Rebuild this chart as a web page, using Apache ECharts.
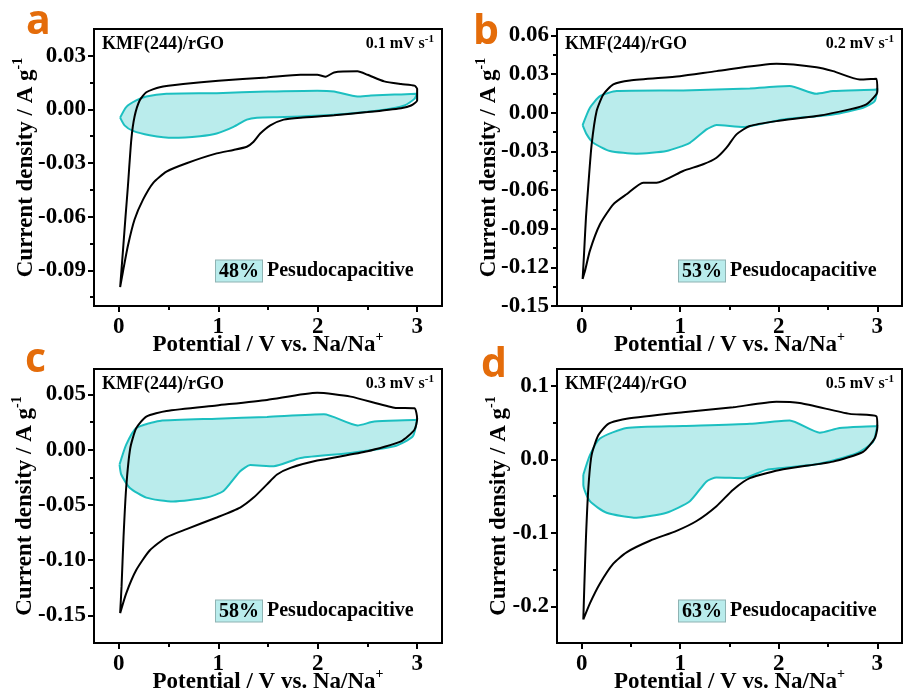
<!DOCTYPE html>
<html>
<head>
<meta charset="utf-8">
<script src="https://cdn.jsdelivr.net/npm/echarts@6/dist/echarts.min.js"></script>
<style>
html, body { margin: 0; padding: 0; background: #fff; }
#chart { width: 903px; height: 698px; }
</style>
</head>
<body>
<div id="chart"></div>
<script>
// potential (V) / current density (A g-1) pairs
var totalA = [[0.013,-0.0994],[0.040,-0.080],[0.067,-0.060],[0.091,-0.043],[0.125,-0.017],[0.158,-0.004],[0.209,0.005],[0.276,0.0096],[0.411,0.0124],[0.647,0.0142],[1.001,0.0161],[1.490,0.0179],[1.827,0.0194],[1.995,0.0194],[2.080,0.0183],[2.164,0.0207],[2.400,0.0213],[2.501,0.0194],[2.669,0.0157],[2.838,0.0142],[2.973,0.0133],[3.0,0.0115],[3.0,0.005],
  [2.939,0.0022],[2.838,0.0007],[2.501,-0.0015],[2.164,-0.0033],[1.827,-0.0046],[1.658,-0.0057],[1.523,-0.0089],[1.422,-0.0135],[1.355,-0.0181],[1.287,-0.0209],[1.153,-0.0227],[0.984,-0.0246],[0.681,-0.0301],[0.479,-0.0348],[0.344,-0.0412],[0.243,-0.0505],[0.158,-0.0616],[0.091,-0.0763],[0.040,-0.0911],[0.013,-0.0994]];
var capA = [[0.013,-0.0046],[0.074,0.0013],[0.175,0.005],[0.276,0.0072],[0.479,0.0087],[0.984,0.0091],[1.490,0.0100],[1.995,0.0105],[2.164,0.0100],[2.400,0.0072],[2.535,0.0078],[2.771,0.0083],[2.990,0.0087],[3.0,0.009],
  [2.973,0.0059],[2.872,0.0022],[2.669,-0.0002],[2.164,-0.003],[1.658,-0.0043],[1.389,-0.0046],[1.287,-0.0057],[1.153,-0.0098],[0.984,-0.0135],[0.816,-0.015],[0.546,-0.0159],[0.310,-0.0144],[0.142,-0.012],[0.057,-0.0089],[0.013,-0.0046]];

var totalB = [[0.010,-0.129],[0.024,-0.110],[0.044,-0.081],[0.068,-0.056],[0.101,-0.025],[0.152,0.0013],[0.220,0.0142],[0.321,0.022],[0.490,0.0251],[0.997,0.0284],[1.368,0.0323],[1.976,0.038],[2.382,0.0354],[2.551,0.0323],[2.821,0.0258],[2.990,0.0264],[3.0,0.0168],
  [2.99,0.0142],[2.889,0.0065],[2.720,0.0026],[2.382,-0.0026],[1.976,-0.0065],[1.706,-0.0103],[1.571,-0.0168],[1.470,-0.0271],[1.368,-0.0349],[1.233,-0.040],[1.030,-0.0452],[0.760,-0.0543],[0.625,-0.0543],[0.456,-0.0633],[0.321,-0.0711],[0.186,-0.0866],[0.084,-0.107],[0.034,-0.1227],[0.010,-0.129]];
var capB = [[0.010,-0.0096],[0.084,0.0039],[0.186,0.0129],[0.355,0.0168],[1.030,0.0173],[1.706,0.0189],[2.111,0.0207],[2.382,0.0147],[2.551,0.0168],[2.990,0.0181],[3.0,0.0189],
  [2.973,0.009],[2.855,0.0039],[2.551,-0.0013],[2.044,-0.0052],[1.639,-0.0111],[1.368,-0.0096],[1.267,-0.0129],[1.098,-0.0233],[0.861,-0.0297],[0.557,-0.0318],[0.287,-0.0297],[0.118,-0.0233],[0.051,-0.0168],[0.010,-0.0096]];

var totalC = [[0.013,-0.148],[0.027,-0.124],[0.047,-0.079],[0.074,-0.034],[0.115,0.0015],[0.175,0.0195],[0.276,0.030],[0.479,0.035],[0.984,0.040],[1.490,0.045],[1.995,0.0515],[2.332,0.048],[2.770,0.038],[2.973,0.0374],[3.0,0.028],
  [2.973,0.018],[2.838,0.0075],[2.501,-0.0015],[1.995,-0.0099],[1.726,-0.0165],[1.591,-0.0225],[1.490,-0.0314],[1.355,-0.0434],[1.220,-0.0524],[0.984,-0.0614],[0.681,-0.0719],[0.479,-0.0793],[0.310,-0.0913],[0.175,-0.109],[0.074,-0.130],[0.013,-0.148]];
var capC = [[0.007,-0.0135],[0.074,0.0045],[0.175,0.0195],[0.411,0.026],[0.984,0.028],[1.490,0.0296],[2.063,0.032],[2.400,0.0219],[2.568,0.0254],[2.990,0.027],[3.0,0.0284],
  [2.956,0.012],[2.770,0.003],[2.332,-0.003],[1.827,-0.0075],[1.557,-0.015],[1.321,-0.014],[1.220,-0.0195],[1.052,-0.0374],[0.883,-0.0434],[0.546,-0.047],[0.276,-0.0434],[0.108,-0.0344],[0.024,-0.0225],[0.007,-0.0135]];

var totalD = [[0.017,-0.218],[0.027,-0.1735],[0.044,-0.106],[0.068,-0.039],[0.101,0.0058],[0.169,0.0327],[0.270,0.0484],[0.456,0.0552],[1.030,0.0641],[1.537,0.0709],[1.976,0.0785],[2.213,0.0767],[2.720,0.0619],[2.990,0.0587],[3.0,0.044],
  [2.973,0.0283],[2.855,0.0103],[2.551,-0.0031],[2.044,-0.0135],[1.706,-0.0256],[1.537,-0.0413],[1.368,-0.0637],[1.166,-0.0839],[0.963,-0.0973],[0.693,-0.1108],[0.456,-0.1265],[0.321,-0.142],[0.186,-0.169],[0.084,-0.196],[0.017,-0.218]];
var capD = [[0.017,-0.021],[0.084,0.0058],[0.186,0.0283],[0.456,0.0426],[1.030,0.0453],[1.706,0.0484],[2.111,0.0529],[2.416,0.0363],[2.618,0.0426],[2.990,0.0453],[3.0,0.047],
  [2.956,0.0238],[2.787,0.0081],[2.382,-0.0067],[1.875,-0.0143],[1.639,-0.0256],[1.368,-0.0247],[1.267,-0.030],[1.098,-0.057],[0.861,-0.0726],[0.557,-0.0794],[0.253,-0.0726],[0.084,-0.057],[0.017,-0.0345],[0.017,-0.021]];

var xTicks = [0, 1, 2, 3];
var xMinor = [0.5, 1.5, 2.5];
var yTicksA = [-0.09, -0.06, -0.03, 0, 0.03];
var yMinorA = [-0.105, -0.075, -0.045, -0.015, 0.015];
var yTicksB = [-0.15, -0.12, -0.09, -0.06, -0.03, 0, 0.03, 0.06];
var yMinorB = [-0.135, -0.105, -0.075, -0.045, -0.015, 0.015, 0.045];
var yTicksC = [-0.15, -0.10, -0.05, 0, 0.05];
var yMinorC = [-0.125, -0.075, -0.025, 0.025];
var yTicksD = [-0.2, -0.1, 0, 0.1];
var yMinorD = [-0.15, -0.05, 0.05];
var scanRates = ['0.1', '0.2', '0.3', '0.5'];
var capShares = ['48%', '53%', '58%', '63%'];

var serif = '"Liberation Serif", "Times New Roman", serif';
var capLine = '#1cbfc0';
var capFill = 'rgba(28,191,192,0.3)';

var panels = [
  { letter: 'a', total: totalA, cap: capA, ticks: yTicksA, minor: yMinorA, dec: 2, yMin: -0.11, yMax: 0.045,
    grid: { left: 94, top: 29, width: 348, height: 277 }, nameGap: 53, letterPos: [26, 2] },
  { letter: 'b', total: totalB, cap: capB, ticks: yTicksB, minor: yMinorB, dec: 2, yMin: -0.15, yMax: 0.065,
    grid: { left: 557, top: 29, width: 345, height: 277 }, nameGap: 53, letterPos: [473, 12] },
  { letter: 'c', total: totalC, cap: capC, ticks: yTicksC, minor: yMinorC, dec: 2, yMin: -0.175, yMax: 0.073,
    grid: { left: 94, top: 369, width: 348, height: 277 }, nameGap: 54, letterPos: [25, 340] },
  { letter: 'd', total: totalD, cap: capD, ticks: yTicksD, minor: yMinorD, dec: 1, yMin: -0.25, yMax: 0.123,
    grid: { left: 557, top: 369, width: 345, height: 277 }, nameGap: 43, letterPos: [481, 345] }
];

var supStyle = { fontFamily: serif, fontWeight: 'bold', fontSize: 14, lineHeight: 14, verticalAlign: 'top' };
var grids = [], xAxes = [], yAxes = [], series = [], graphics = [];

panels.forEach(function (p, i) {
  var g = p.grid;
  grids.push({ left: g.left, top: g.top, width: g.width, height: g.height, show: true,
    borderColor: '#000', borderWidth: 2, backgroundColor: 'transparent' });

  // main x axis
  xAxes.push({
    type: 'value', gridIndex: i, position: 'bottom', min: -0.25, max: 3.25,
    name: 'Potential / V vs. Na/Na{sup|+}', nameLocation: 'middle', nameGap: 24, nameMoveOverlap: false,
    nameTextStyle: { color: '#000', fontFamily: serif, fontWeight: 'bold', fontSize: 23, lineHeight: 30,
      rich: { sup: supStyle } },
    axisLine: { onZero: false, lineStyle: { color: '#000', width: 2 } },
    axisTick: { customValues: xTicks, length: 6, lineStyle: { color: '#000', width: 2 } },
    axisLabel: { customValues: xTicks, color: '#000', fontFamily: serif, fontWeight: 'bold', fontSize: 23, margin: 10 },
    splitLine: { show: false }
  });
  // minor x ticks
  xAxes.push({
    type: 'value', gridIndex: i, position: 'bottom', min: -0.25, max: 3.25,
    axisLine: { show: false, onZero: false },
    axisTick: { customValues: xMinor, length: 4, lineStyle: { color: '#000', width: 2 } },
    axisLabel: { show: false }, splitLine: { show: false }
  });

  yAxes.push({
    type: 'value', gridIndex: i, position: 'left', min: p.yMin, max: p.yMax,
    name: 'Current density / A g{sup|-1}', nameLocation: 'middle', nameGap: p.nameGap, nameRotate: 90, nameMoveOverlap: false,
    nameTextStyle: { color: '#000', fontFamily: serif, fontWeight: 'bold', fontSize: 23, lineHeight: 30,
      rich: { sup: supStyle } },
    axisLine: { onZero: false, lineStyle: { color: '#000', width: 2 } },
    axisTick: { customValues: p.ticks, length: 6, lineStyle: { color: '#000', width: 2 } },
    axisLabel: { customValues: p.ticks, color: '#000', fontFamily: serif, fontWeight: 'bold', fontSize: 23, margin: 8,
      formatter: (function (d) { return function (v) { return Number(v).toFixed(d); }; })(p.dec) },
    splitLine: { show: false }
  });
  yAxes.push({
    type: 'value', gridIndex: i, position: 'left', min: p.yMin, max: p.yMax,
    axisLine: { show: false, onZero: false },
    axisTick: { customValues: p.minor, length: 4, lineStyle: { color: '#000', width: 2 } },
    axisLabel: { show: false }, splitLine: { show: false }
  });

  var xi = i * 2, yi = i * 2;
  series.push({
    type: 'custom', xAxisIndex: xi, yAxisIndex: yi, data: [[0, 0]], silent: true, z: 1,
    renderItem: (function (pts) {
      return function (params, api) {
        return { type: 'polygon', shape: { points: pts.map(function (pt) { return api.coord(pt); }) },
          style: { fill: capFill } };
      };
    })(p.cap)
  });
  series.push({ type: 'line', xAxisIndex: xi, yAxisIndex: yi, data: p.cap, showSymbol: false, smooth: 0.2,
    lineStyle: { color: capLine, width: 2 }, z: 2, silent: true });
  series.push({ type: 'line', xAxisIndex: xi, yAxisIndex: yi, data: p.total, showSymbol: false, smooth: 0.2,
    lineStyle: { color: '#000', width: 2 }, z: 3, silent: true });

  // panel letter
  graphics.push({ type: 'text', left: p.letterPos[0], top: p.letterPos[1],
    style: { text: p.letter, fill: '#e46c0a', font: 'bold 41px "Open Sans", sans-serif' } });
  // sample label
  graphics.push({ type: 'text', x: g.left + 8, y: g.top + 15,
    style: { text: 'KMF(244)/rGO', fill: '#000', font: 'bold 18px ' + serif, verticalAlign: 'middle' } });
  // scan rate
  graphics.push({ type: 'text', x: g.left + g.width - 8, y: g.top + 15,
    style: { text: scanRates[i] + ' mV s{sup|-1}', fill: '#000', font: 'bold 16px ' + serif, align: 'right', verticalAlign: 'middle',
      lineHeight: 20, rich: { sup: { font: 'bold 11px ' + serif, lineHeight: 11, verticalAlign: 'top' } } } });
  // capacitive share
  graphics.push({ type: 'text', x: g.left + 122, y: g.top + 242,
    style: { text: '{box|' + capShares[i] + '} Pesudocapacitive', fill: '#000', font: 'bold 20px ' + serif, verticalAlign: 'middle',
      rich: { box: { font: 'bold 20px ' + serif, backgroundColor: '#b9ecec', borderColor: '#8fb3b3', borderWidth: 1, padding: [1, 3, 0, 3] } } } });
});

var chart = echarts.init(document.getElementById('chart'), null, { renderer: 'canvas' });
chart.setOption({
  animation: false,
  backgroundColor: '#fff',
  grid: grids,
  xAxis: xAxes,
  yAxis: yAxes,
  series: series,
  graphic: graphics
});
</script>
</body>
</html>
